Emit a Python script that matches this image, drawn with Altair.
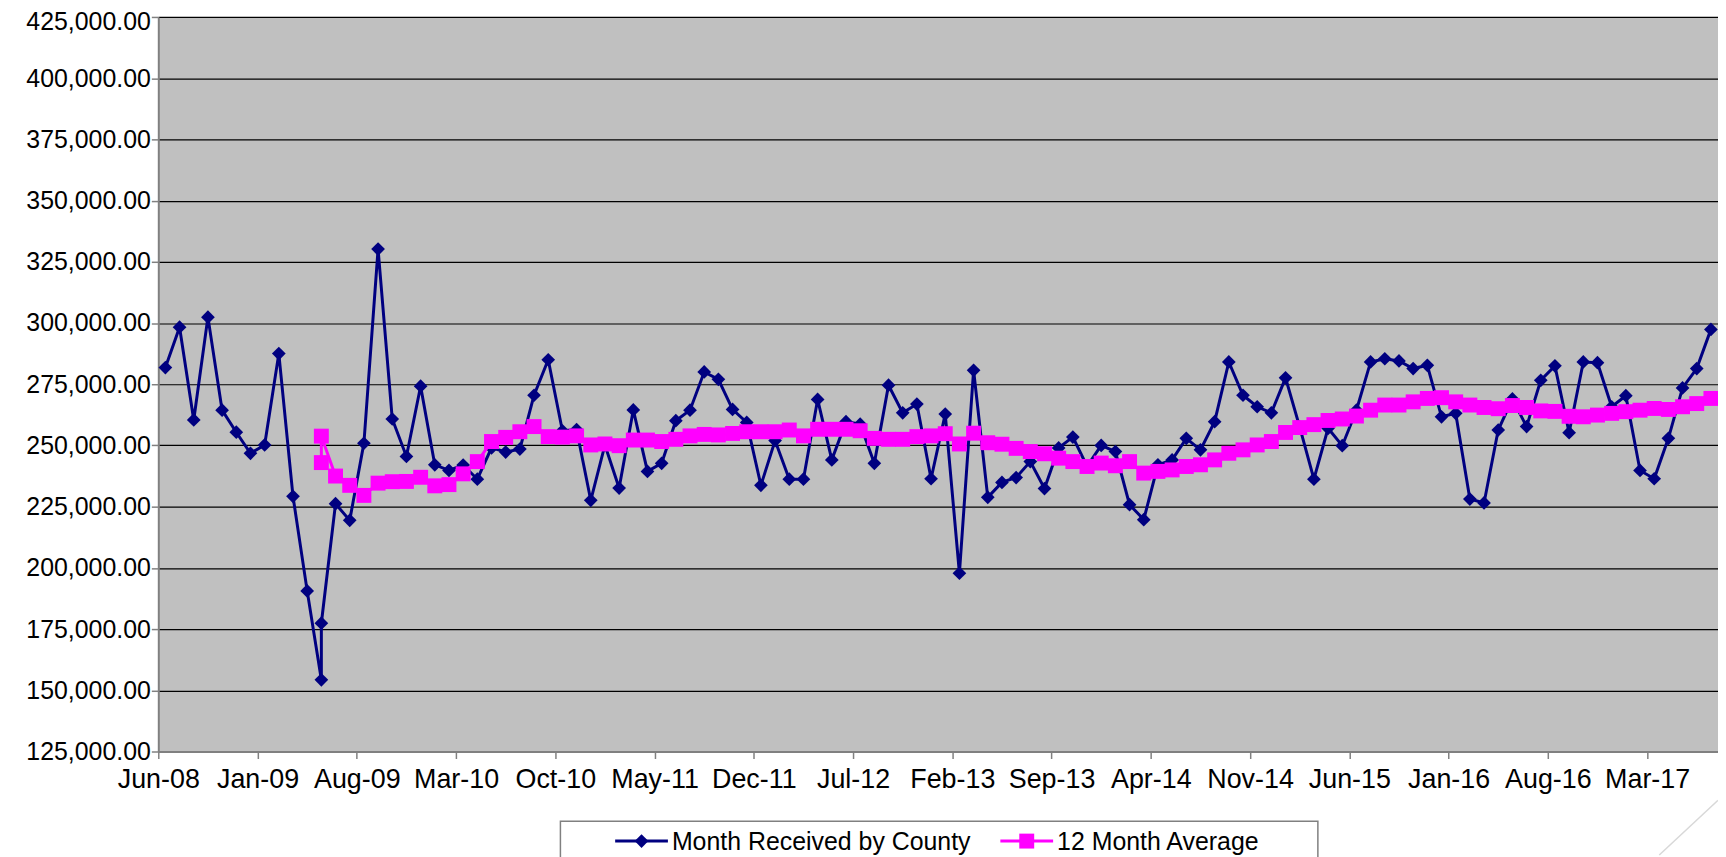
import altair as alt
import pandas as pd

# ---- data ----
months = (
    ["2008-06", "2008-07", "2008-08", "2008-09", "2008-10", "2008-11", "2008-12"]
    + ["2009-01", "2009-02", "2009-03", "2009-04", "2009-05", "2009-05", "2009-06",
       "2009-07", "2009-08", "2009-09", "2009-10", "2009-11", "2009-12"]
    + ["2010-01", "2010-02", "2010-03", "2010-04", "2010-05", "2010-06",
       "2010-07", "2010-08", "2010-09", "2010-10", "2010-11", "2010-12"]
    + ["2011-01", "2011-02", "2011-03", "2011-04", "2011-05", "2011-06",
       "2011-07", "2011-08", "2011-09", "2011-10", "2011-11", "2011-12"]
    + ["2012-01", "2012-02", "2012-03", "2012-04", "2012-05", "2012-06",
       "2012-07", "2012-08", "2012-09", "2012-10", "2012-11", "2012-12"]
    + ["2013-01", "2013-02", "2013-03", "2013-04", "2013-05", "2013-06",
       "2013-07", "2013-08", "2013-09", "2013-10", "2013-11", "2013-12"]
    + ["2014-01", "2014-02", "2014-03", "2014-04", "2014-05", "2014-06",
       "2014-07", "2014-08", "2014-09", "2014-10", "2014-11", "2014-12"]
    + ["2015-01", "2015-02", "2015-03", "2015-04", "2015-05", "2015-06",
       "2015-07", "2015-08", "2015-09", "2015-10", "2015-11", "2015-12"]
    + ["2016-01", "2016-02", "2016-03", "2016-04", "2016-05", "2016-06",
       "2016-07", "2016-08", "2016-09", "2016-10", "2016-11", "2016-12"]
    + ["2017-01", "2017-02", "2017-03", "2017-04", "2017-05", "2017-06", "2017-07"]
)

received = [
    281800, 298300, 260400, 302400, 264400, 255400, 246800,
    250200, 287500, 229200, 190600, 154300, 177400, 226200, 219400, 250900, 330200,
    260800, 245500, 274200,
    242100, 239800, 242000, 236200, 249000, 247300, 248500, 270500, 285000, 256000,
    256500, 227600,
    250200, 232600, 264500, 239400, 242700, 260100, 264400, 280000, 277000, 264700,
    259400, 233700,
    252000, 236200, 236200, 268800, 244100, 259700, 258700, 242700, 274600, 263300,
    266900, 236400,
    262800, 197800, 280700, 228800, 234900, 236900, 243400, 232400, 249000, 253400,
    241500, 250000,
    247500, 225800, 219700, 242100, 244100, 252900, 248200, 259700, 284100, 270500,
    265800, 263300,
    277600, 257500, 236200, 257000, 249900, 264400, 284100, 285400, 284500, 281400,
    282700, 261700,
    263100, 228100, 226500, 256300, 269000, 257700, 276600, 282500, 255200, 284100,
    283800, 265800,
    270300, 239800, 236400, 252900, 273500, 281400, 297400,
]

# 12 month average, starting with the first May-09 row
average = [
    243000, 253800, 237500, 233700, 229600, 234600, 235200, 235300, 237000,
    233500, 234000, 238400, 243400, 251600, 253300, 255600, 257700, 253600, 253400,
    253900, 250200,
    250600, 249900, 252200, 252200, 251600, 252500, 253900, 254500, 254300, 254900,
    255600, 255600,
    255600, 256300, 253900, 256600, 256600, 256600, 256000, 252900, 252500, 252500,
    253600, 253900,
    254800, 250600, 255000, 251100, 250500, 248800, 247500, 246600, 244800, 243400,
    241400, 242800,
    241700, 243400, 238700, 239400, 240000, 241400, 242100, 244100, 246800, 248200,
    250200, 251600,
    255300, 257300, 258500, 260200, 260800, 262000, 264400, 266500, 266500, 267800,
    269200, 269500,
    267800, 266500, 265500, 265000, 266300, 265500, 264100, 263900, 261900, 261700,
    262400, 263100,
    263800, 264400, 265100, 264700, 265800, 267100, 269200,
]

tick_labels = ["Jun-08", "Jan-09", "Aug-09", "Mar-10", "Oct-10", "May-11", "Dec-11",
               "Jul-12", "Feb-13", "Sep-13", "Apr-14", "Nov-14", "Jun-15", "Jan-16",
               "Aug-16", "Mar-17"]
y_ticks = [125000, 150000, 175000, 200000, 225000, 250000, 275000, 300000,
           325000, 350000, 375000, 400000, 425000]
series_names = ["Month Received by County", "12 Month Average"]

# ---- tables ----
def month_index(s):
    y, m = s.split("-")
    return (int(y) - 2008) * 12 + (int(m) - 6)

df = pd.DataFrame({
    "row": list(range(len(months))),
    "month": months,
    "value": received,
})
df["idx"] = df["month"].map(month_index)

start = len(months) - len(average)
df_avg = pd.DataFrame({
    "row": list(range(start, len(months))),
    "month": months[start:],
    "value": average,
})
df_avg["idx"] = df_avg["month"].map(month_index)

NAVY = "#000080"
PINK = "#FF00FF"
FONT = "Liberation Sans"
FS_Y = 25
FS_X = 27
FS_LEG = 25

LEFT = 151
W, H = 1567, 738
n_months = month_index(months[-1]) + 1

label_js = "[" + ",".join("'%s'" % t for t in tick_labels) + "]"
x_enc = alt.X(
    "idx:Q",
    scale=alt.Scale(domain=[-0.5, n_months - 0.5], nice=False, zero=False),
    axis=alt.Axis(
        values=[7 * k - 0.5 for k in range(len(tick_labels))],
        labelExpr=label_js + "[round((datum.value + 0.5) / 7)]",
        labelFlush=False,
        labelOverlap=False,
        labelBound=False,
        title=None,
        grid=False,
        domainColor="#808080",
        domainWidth=2,
        tickColor="#808080",
        tickWidth=1.5,
        tickSize=7,
        labelPadding=8,
        labelFont=FONT,
        labelFontSize=FS_X,
        labelColor="black",
    ),
)
y_enc = alt.Y(
    "value:Q",
    scale=alt.Scale(domain=[125000, 425000], nice=False, zero=False),
    axis=alt.Axis(
        values=y_ticks,
        format=",.2f",
        title=None,
        grid=True,
        gridColor="#000000",
        gridWidth=1.2,
        domainColor="#808080",
        domainWidth=2,
        tickColor="#808080",
        tickWidth=1.5,
        tickSize=7,
        labelPadding=1,
        labelOffset={"condition": {"test": "datum.value >= 425000", "value": 5}, "value": 0},
        labelFont=FONT,
        labelFontSize=FS_Y,
        labelColor="black",
    ),
)

navy_line = alt.Chart(df).mark_line(color=NAVY, strokeWidth=3).encode(
    x=x_enc, y=y_enc, order="row:Q")
navy_pts = alt.Chart(df).mark_point(shape="diamond", filled=True, size=190,
                                     color=NAVY, opacity=1).encode(x="idx:Q", y="value:Q")
pink_line = alt.Chart(df_avg).mark_line(color=PINK, strokeWidth=3).encode(
    x="idx:Q", y="value:Q", order="row:Q")
pink_pts = alt.Chart(df_avg).mark_point(shape="square", filled=True, size=225,
                                         color=PINK, opacity=1).encode(x="idx:Q", y="value:Q")

# ---- legend ----
one = pd.DataFrame({"a": [0]})
leg_y = 828
box = alt.Chart(one).mark_rect(fill="white", stroke="#808080", strokeWidth=1.5).encode(
    x=alt.value(404), x2=alt.value(1165), y=alt.value(808), y2=alt.value(900))
leg_items = []
for name, color, shape, x0 in [(series_names[0], NAVY, "diamond", 459),
                               (series_names[1], PINK, "square", 846)]:
    leg_items.append(alt.Chart(one).mark_rule(color=color, strokeWidth=3).encode(
        x=alt.value(x0), x2=alt.value(x0 + 53), y=alt.value(leg_y)))
    leg_items.append(alt.Chart(one).mark_point(shape=shape, filled=True, opacity=1,
                                               size=190 if shape == "diamond" else 225,
                                               color=color).encode(
        x=alt.value(x0 + 26.5), y=alt.value(leg_y)))
    leg_items.append(alt.Chart(one).mark_text(align="left", baseline="middle", font=FONT,
                                              fontSize=FS_LEG, color="black").encode(
        x=alt.value(x0 + 57), y=alt.value(leg_y + 1), text=alt.value(name)))

corner = alt.Chart(one).mark_rule(color="#d8d8d8", strokeWidth=1.5).encode(
    x=alt.value(1508), y=alt.value(842), x2=alt.value(1567), y2=alt.value(787))

chart = alt.layer(navy_line, navy_pts, pink_line, pink_pts, box, *leg_items, corner).properties(
    width=W, height=H,
    autosize="none",
    padding={"left": LEFT, "top": 7, "right": 0, "bottom": 104},
    background="white",
).configure_view(fill="#C0C0C0", stroke=None)

chart.save("out.html", embed_options={"renderer": "svg", "actions": False})
